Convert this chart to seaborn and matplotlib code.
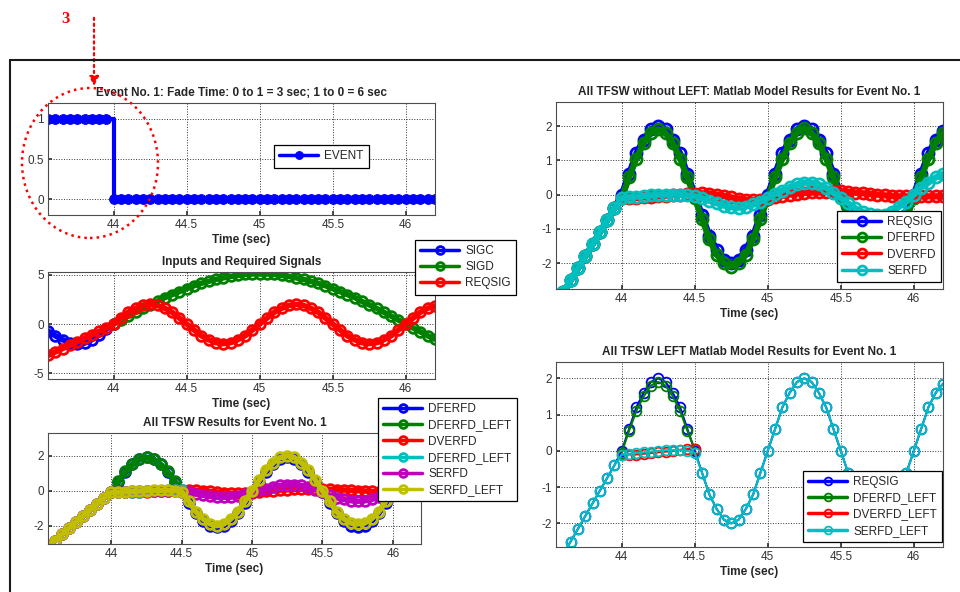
import numpy as np
import matplotlib
matplotlib.use("Agg")
import matplotlib.pyplot as plt
import seaborn as sns
from matplotlib.patches import Ellipse, FancyArrowPatch
from matplotlib.lines import Line2D

nan = np.nan

# sample times (sec)
time_s = [43.55, 43.60, 43.65, 43.70, 43.75, 43.80, 43.85, 43.90, 43.95,
          44.00, 44.05, 44.10, 44.15, 44.20, 44.25, 44.30, 44.35, 44.40, 44.45,
          44.50, 44.55, 44.60, 44.65, 44.70, 44.75, 44.80, 44.85, 44.90, 44.95,
          45.00, 45.05, 45.10, 45.15, 45.20, 45.25, 45.30, 45.35, 45.40, 45.45,
          45.50, 45.55, 45.60, 45.65, 45.70, 45.75, 45.80, 45.85, 45.90, 45.95,
          46.00, 46.05, 46.10, 46.15, 46.20]

event = [1, 1, 1, 1, 1, 1, 1, 1, 1,
         0, 0, 0, 0, 0, 0, 0, 0, 0, 0,
         0, 0, 0, 0, 0, 0, 0, 0, 0, 0,
         0, 0, 0, 0, 0, 0, 0, 0, 0, 0,
         0, 0, 0, 0, 0, 0, 0, 0, 0, 0,
         0, 0, 0, 0, 0]

sigc = [-0.7, -1.2, -1.6, -1.9, -2.0, -1.95, -1.6, -1.1, -0.5,
        0.0, nan, nan, nan, nan, nan, nan, nan, nan, nan,
        nan, nan, nan, nan, nan, nan, nan, nan, nan, nan,
        nan, nan, nan, nan, nan, nan, nan, nan, nan, nan,
        nan, nan, nan, nan, nan, nan, nan, nan, nan, nan,
        nan, nan, nan, nan, nan]

sigd = [nan, nan, nan, nan, nan, nan, nan, nan, nan,
        0.0, 0.4, 0.8, 1.2, 1.6, 1.95, 2.3, 2.7, 3.0, 3.3,
        3.6, 3.9, 4.15, 4.35, 4.55, 4.7, 4.85, 4.95, 5.05, 5.1,
        5.1, 5.1, 5.05, 4.95, 4.85, 4.7, 4.55, 4.35, 4.15, 3.9,
        3.6, 3.3, 3.0, 2.7, 2.3, 1.95, 1.6, 1.2, 0.8, 0.4,
        0.0, -0.4, -0.8, -1.2, -1.55]

reqsig = [-3.2, -2.85, -2.5, -2.15, -1.8, -1.45, -1.1, -0.75, -0.4,
          0.0, 0.6, 1.2, 1.6, 1.9, 2.0, 1.9, 1.6, 1.2, 0.6,
          0.0, -0.6, -1.2, -1.6, -1.9, -2.0, -1.9, -1.6, -1.2, -0.6,
          0.0, 0.6, 1.2, 1.6, 1.9, 2.0, 1.9, 1.6, 1.2, 0.6,
          0.0, -0.6, -1.2, -1.6, -1.9, -2.0, -1.9, -1.6, -1.2, -0.6,
          0.0, 0.6, 1.2, 1.6, 1.85]

dferfd = [-3.2, -2.85, -2.5, -2.15, -1.8, -1.45, -1.1, -0.75, -0.4,
          -0.1, 0.5, 1.05, 1.5, 1.8, 1.9, 1.8, 1.5, 1.05, 0.5,
          -0.1, -0.7, -1.3, -1.75, -2.0, -2.1, -2.0, -1.75, -1.3, -0.7,
          -0.1, 0.5, 1.05, 1.5, 1.8, 1.95, 1.8, 1.5, 1.05, 0.5,
          -0.1, -0.7, -1.3, -1.75, -2.0, -2.1, -2.0, -1.75, -1.3, -0.7,
          -0.1, 0.5, 1.05, 1.5, 1.8]

dferfd_left = [nan, nan, nan, nan, nan, nan, nan, nan, nan,
               -0.05, 0.55, 1.1, 1.5, 1.8, 1.9, 1.8, 1.5, 1.1, 0.55,
               0.05, nan, nan, nan, nan, nan, nan, nan, nan, nan,
               nan, nan, nan, nan, nan, nan, nan, nan, nan, nan,
               nan, nan, nan, nan, nan, nan, nan, nan, nan, nan,
               nan, nan, nan, nan, nan]

dverfd = [nan, nan, nan, nan, nan, nan, nan, nan, nan,
          -0.1, -0.1, -0.1, -0.08, -0.07, -0.05, -0.03, -0.01, 0.0, 0.02,
          0.03, 0.04, 0.03, 0.0, -0.04, -0.08, -0.12, -0.15, -0.16, -0.15,
          -0.12, -0.08, -0.04, 0.0, 0.03, 0.05, 0.07, 0.08, 0.09, 0.1,
          0.1, 0.08, 0.06, 0.04, 0.02, 0.0, -0.02, -0.04, -0.05, -0.05,
          -0.05, -0.05, -0.05, -0.05, -0.05]

dverfd_left = [nan, nan, nan, nan, nan, nan, nan, nan, nan,
               -0.1, -0.1, -0.1, -0.08, -0.06, -0.04, -0.02, 0.0, 0.03, 0.05,
               0.05, nan, nan, nan, nan, nan, nan, nan, nan, nan,
               nan, nan, nan, nan, nan, nan, nan, nan, nan, nan,
               nan, nan, nan, nan, nan, nan, nan, nan, nan, nan,
               nan, nan, nan, nan, nan]

serfd = [-3.2, -2.85, -2.5, -2.15, -1.8, -1.45, -1.1, -0.75, -0.4,
         -0.1, -0.08, -0.06, -0.04, -0.02, 0.0, 0.0, 0.0, 0.0, -0.02,
         -0.05, -0.1, -0.18, -0.25, -0.32, -0.37, -0.38, -0.35, -0.28, -0.2,
         -0.1, 0.02, 0.12, 0.22, 0.3, 0.35, 0.35, 0.3, 0.2, 0.05,
         -0.1, -0.25, -0.4, -0.5, -0.57, -0.6, -0.58, -0.5, -0.35, -0.2,
         0.0, 0.2, 0.35, 0.5, 0.6]

serfd_left = [-3.2, -2.85, -2.5, -2.15, -1.8, -1.45, -1.1, -0.75, -0.4,
              -0.1, -0.08, -0.06, -0.04, -0.02, 0.0, 0.02, 0.02, 0.02, 0.0,
              -0.05, -0.6, -1.2, -1.6, -1.9, -2.0, -1.9, -1.6, -1.2, -0.6,
              0.0, 0.6, 1.2, 1.6, 1.9, 2.0, 1.9, 1.6, 1.2, 0.6,
              0.0, -0.6, -1.2, -1.6, -1.85, -1.9, -1.85, -1.6, -1.2, -0.6,
              0.0, 0.6, 1.2, 1.6, 1.85]

x_ticks = [44, 44.5, 45, 45.5, 46]
x_tick_labels = ["44", "44.5", "45", "45.5", "46"]

BLUE = "#0000ff"
GREEN = "#008000"
RED = "#ff0000"
CYAN = "#00bfbf"
MAGENTA = "#bf00bf"
OLIVE = "#bfbf00"

sns.set_theme(style="ticks")
plt.rcParams["font.family"] = ["Liberation Sans Narrow", "Liberation Sans", "DejaVu Sans"]
plt.rcParams.update({
    "axes.edgecolor": "0.3", "axes.linewidth": 0.8,
    "xtick.direction": "in", "ytick.direction": "in",
    "xtick.major.size": 3, "ytick.major.size": 3,
    "xtick.labelsize": 8.5, "ytick.labelsize": 8.5,
    "xtick.color": "0.2", "ytick.color": "0.2",
    "xtick.major.pad": 3, "ytick.major.pad": 3,
})

W, H = 960, 592
fig = plt.figure(figsize=(9.6, 5.92), dpi=100)


def px_axes(x0, y0, x1, y1):
    return fig.add_axes([x0 / W, 1 - y1 / H, (x1 - x0) / W, (y1 - y0) / H])


def draw(ax, y, color, label, lw=4, ms=7, mew=2, first=0):
    sns.lineplot(x=time_s[first:], y=y[first:], ax=ax, color=color, label=label,
                 linewidth=lw, marker="o", markersize=ms, markerfacecolor="none",
                 markeredgecolor=color, markeredgewidth=mew)


def style(ax, ylim, yticks, ylabels, title):
    ax.set_xlim(43.55, 46.2)
    ax.set_ylim(*ylim)
    ax.set_xticks(x_ticks, x_tick_labels)
    ax.set_yticks(yticks, ylabels)
    ax.grid(True, linestyle=":", color="0.2", linewidth=0.7)
    ax.set_title(title, fontsize=8.5, fontweight="bold", pad=5)
    ax.set_xlabel("Time (sec)", fontsize=8.5, fontweight="bold", labelpad=2)
    ax.set_ylabel("")


def legend(ax, anchor):
    leg = ax.legend(loc="upper left", bbox_to_anchor=anchor, frameon=True,
                    fancybox=False, edgecolor="black", framealpha=1, fontsize=8.5,
                    handlelength=3.3, handletextpad=0.5, labelspacing=0.35,
                    borderpad=0.45, borderaxespad=0, markerscale=0.8)
    leg.get_frame().set_linewidth(0.9)
    for h in leg.get_lines():
        h.set_linewidth(2.5)


# event panel
ax1 = px_axes(48, 103, 435, 215)
sns.lineplot(x=time_s, y=event, ax=ax1, color=BLUE, label="EVENT", linewidth=3,
             marker="o", markersize=7, markerfacecolor=BLUE, markeredgecolor=BLUE,
             drawstyle="steps-post")
style(ax1, (-0.2, 1.2), [0, 0.5, 1], ["0", "0.5", "1"],
      "Event No. 1: Fade Time: 0 to 1 = 3 sec; 1 to 0 = 6 sec")
legend(ax1, (0.584, 0.625))

# inputs
ax2 = px_axes(48, 272, 435, 379)
draw(ax2, sigc, BLUE, "SIGC")
draw(ax2, sigd, GREEN, "SIGD")
draw(ax2, reqsig, RED, "REQSIG")
style(ax2, (-5.6, 5.3), [-5, 0, 5], ["-5", "0", "5"], "Inputs and Required Signals")
legend(ax2, (0.948, 1.30))

# all TFSW
ax3 = px_axes(48, 433, 421, 544)
draw(ax3, dferfd, BLUE, "DFERFD")
draw(ax3, dferfd_left, GREEN, "DFERFD_LEFT")
draw(ax3, dverfd, RED, "DVERFD")
draw(ax3, dverfd_left, CYAN, "DFERFD_LEFT")
draw(ax3, serfd, MAGENTA, "SERFD")
draw(ax3, serfd_left, OLIVE, "SERFD_LEFT")
style(ax3, (-3.05, 3.3), [-2, 0, 2], ["-2", "0", "2"], "All TFSW Results for Event No. 1")
legend(ax3, (0.885, 1.315))

# without LEFT
ax4 = px_axes(556, 102, 943, 289)
draw(ax4, reqsig, BLUE, "REQSIG", lw=4.5, ms=8, first=1)
draw(ax4, dferfd, GREEN, "DFERFD", lw=4.5, ms=8, first=1)
draw(ax4, dverfd, RED, "DVERFD", lw=4.5, ms=8, first=1)
draw(ax4, serfd, CYAN, "SERFD", lw=4.5, ms=8, first=1)
style(ax4, (-2.75, 2.7), [-2, -1, 0, 1, 2], ["-2", "-1", "0", "1", "2"],
      "All TFSW without LEFT: Matlab Model Results for Event No. 1")
legend(ax4, (0.726, 0.417))

# LEFT
ax5 = px_axes(556, 362, 943, 547)
draw(ax5, reqsig, BLUE, "REQSIG", lw=1.5, ms=7, mew=1.3, first=1)
draw(ax5, dferfd_left, GREEN, "DFERFD_LEFT", lw=1.5, ms=7, mew=1.3, first=1)
draw(ax5, dverfd_left, RED, "DVERFD_LEFT", lw=1.5, ms=7, mew=1.3, first=1)
draw(ax5, serfd_left, CYAN, "SERFD_LEFT", lw=1.5, ms=7, mew=1.3, first=1)
style(ax5, (-2.65, 2.45), [-2, -1, 0, 1, 2], ["-2", "-1", "0", "1", "2"],
      "All TFSW LEFT Matlab Model Results for Event No. 1")
legend(ax5, (0.638, 0.411))

# frame and red markup
fig.add_artist(Line2D([10 / W, 1], [1 - 60 / H, 1 - 60 / H], transform=fig.transFigure,
                      color="0.1", linewidth=1.5))
fig.add_artist(Line2D([10 / W, 10 / W], [0, 1 - 60 / H], transform=fig.transFigure,
                      color="0.1", linewidth=1.5))
fig.text(66 / W, 1 - 19 / H, "3", color="red", fontsize=12, fontweight="bold",
         family=["Liberation Serif", "DejaVu Serif"], ha="center", va="center")
fig.add_artist(FancyArrowPatch((94 / W, 1 - 15 / H), (94 / W, 1 - 89 / H),
                               transform=fig.transFigure, arrowstyle="-|>",
                               mutation_scale=14, color="red", linestyle=":",
                               linewidth=1.6))
fig.add_artist(Ellipse((90 / W, 1 - 163 / H), 136 / W, 150 / H, transform=fig.transFigure,
                       fill=False, edgecolor="red", linestyle=":", linewidth=1.8))

fig.savefig("out.png", dpi=100)
